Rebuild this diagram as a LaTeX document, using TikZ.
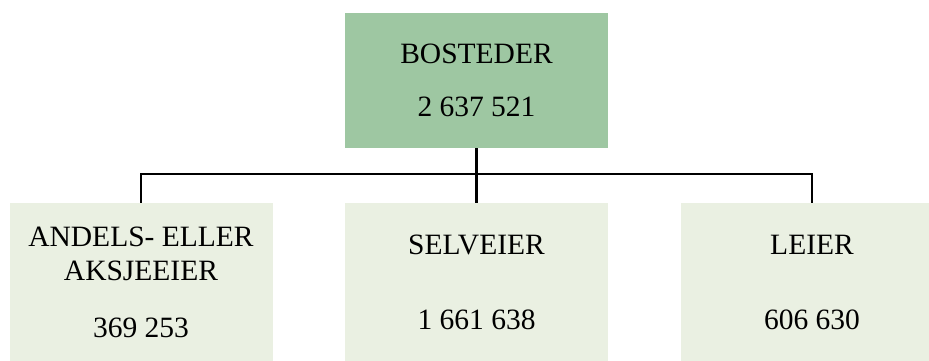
\documentclass[tikz,border=0pt]{standalone}
\usepackage{fontspec}
\setmainfont{Liberation Serif}
\definecolor{topgreen}{RGB}{158,199,162}
\definecolor{palegreen}{RGB}{234,240,226}
\begin{document}
\begin{tikzpicture}[
  block/.style={rectangle, minimum width=263pt, minimum height=158pt, inner sep=0pt, align=center, fill=palegreen},
  node distance=335.5pt,
  font=\fontsize{29.5}{34}\selectfont
]
\useasboundingbox (0,0) rectangle (929pt,-361pt);
\node[block, fill=topgreen, minimum height=135pt] (bosteder) at (476.5pt,-80.5pt) {BOSTEDER\\[19pt]2 637 521};
\node[block] (selveier) at (476.5pt,-282pt) {SELVEIER\\[41pt]1 661 638};
\node[block, left of=selveier] (andels) {ANDELS- ELLER\\AKSJEEIER\\[23pt]369 253};
\node[block, right of=selveier] (leier) {LEIER\\[41pt]606 630};

\coordinate (bus) at (476.5pt,-174pt);

\draw[line width=2.6pt] (bosteder) -- (selveier);
\draw[line width=2.6pt] (andels.north) |- (bus) -| (leier.north);
\end{tikzpicture}
\end{document}
